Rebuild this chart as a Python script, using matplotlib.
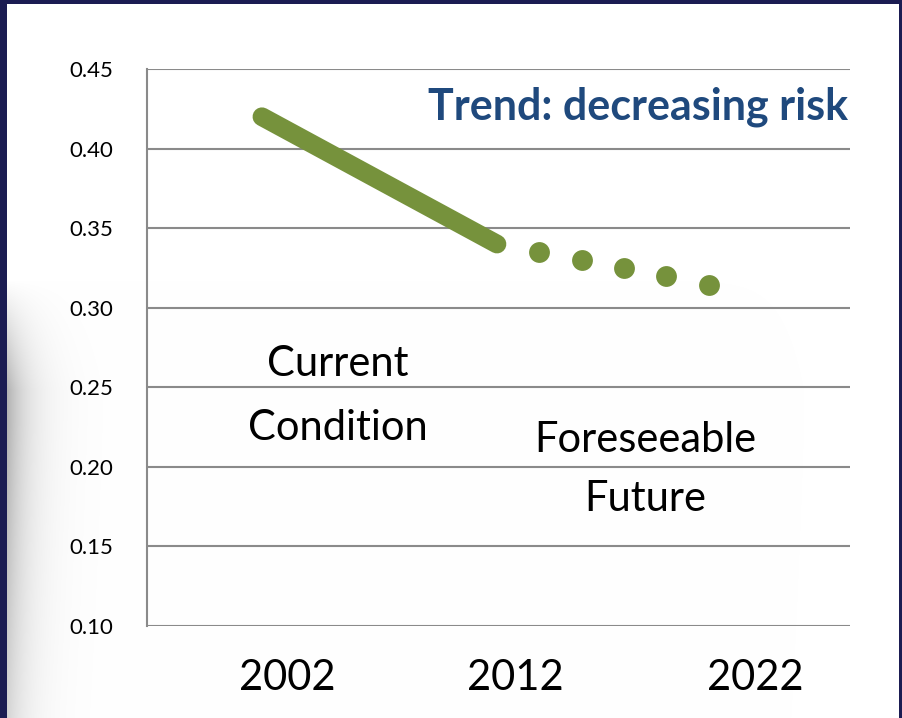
import numpy as np
import matplotlib
matplotlib.use("Agg")
import matplotlib.pyplot as plt

# ---- data ----
trend_years = [2002, 2012]
trend_values = [0.42, 0.34]
future_years = [2013.8, 2015.6, 2017.4, 2019.2, 2021.0]
future_values = [0.335, 0.330, 0.325, 0.320, 0.314]
y_ticks = [0.10, 0.15, 0.20, 0.25, 0.30, 0.35, 0.40, 0.45]
x_labels = ["2002", "2012", "2022"]
x_label_pos = [2003.06, 2012.77, 2022.98]

title_text = "Trend: decreasing risk"
current_text = "Current\nCondition"
future_text = "Foreseeable\nFuture"

GREEN = "#76923C"
BLUE = "#1F497D"
NAVY = "#1b1c52"
GRID = "#8a8a8a"
FONT = ["Lato", "DejaVu Sans"]

W, H = 903, 718
fig = plt.figure(figsize=(W / 100, H / 100), dpi=100)

# ---- background: navy frame, white panel, soft left shadow ----
img = np.ones((H, W, 3))
yy, xx = np.mgrid[0:H, 0:W]
fx = np.exp(-np.clip(xx - 7, 0, None) / 22.0)
gy = np.clip((yy - 280) / 110.0, 0, 1) * (1 - 0.45 * np.clip((yy - 420) / 300.0, 0, 1))
dark = 0.30 * fx * gy
img -= dark[..., None]
navy = np.array(matplotlib.colors.to_rgb(NAVY))
img[:4, :, :] = navy
img[:, :7, :] = navy
img[:, 899:, :] = navy
fig.figimage(img, xo=0, yo=0, origin="upper", zorder=-10)

# ---- main axes ----
ax = fig.add_axes([147 / W, 92 / H, 703 / W, 557 / H])
ax.set_facecolor("none")
ax.set_xlim(1997.11, 2027.02)
ax.set_ylim(0.10, 0.45)

ax.set_yticks(y_ticks)
ax.set_yticklabels([f"{v:.2f}" for v in y_ticks], fontsize=16, family=FONT)
ax.tick_params(axis="y", length=0, pad=24)
ax.set_xticks(x_label_pos)
ax.set_xticklabels(x_labels, fontsize=30, family=FONT)
ax.tick_params(axis="x", length=0, pad=24)

ax.yaxis.grid(True, color=GRID, linewidth=1.5)
ax.set_axisbelow(True)
for s in ["top", "right", "bottom"]:
    ax.spines[s].set_visible(False)
ax.spines["left"].set_color(GRID)
ax.spines["left"].set_linewidth(1.5)

ax.plot(trend_years, trend_values, color=GREEN, linewidth=13.5,
        solid_capstyle="round", zorder=3)
ax.plot(future_years, future_values, linestyle="none", marker="o",
        markersize=15, color=GREEN, markeredgewidth=0, zorder=3)

ax.text(2018.0, 0.418, title_text, color=BLUE, fontsize=31,
        fontweight="bold", family=FONT, ha="center", va="baseline")
ax.text(2005.23, 0.2446, current_text, fontsize=30, family=FONT,
        ha="center", va="center", linespacing=1.85)
ax.text(2018.3, 0.1984, future_text, fontsize=30, family=FONT,
        ha="center", va="center", linespacing=1.66)

fig.savefig("out.png", dpi=100)
